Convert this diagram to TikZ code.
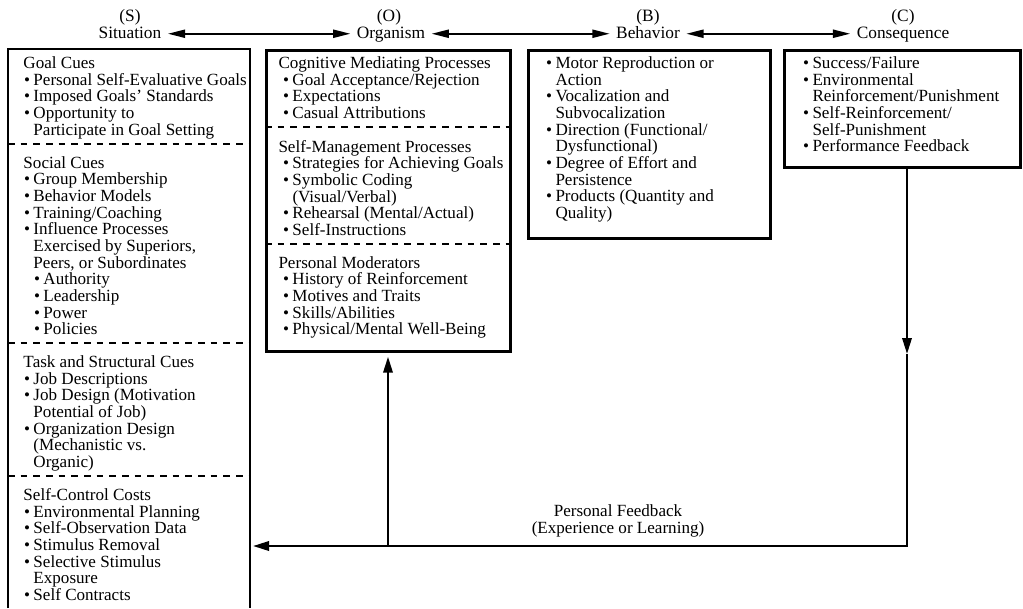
\documentclass[tikz,border=0pt]{standalone}
\usepackage{fontspec}
\setmainfont{Liberation Serif}
\usetikzlibrary{arrows.meta}

\tikzset{every picture/.style={line width=0.75pt}}
\tikzset{
  boxline/.style={line width=2pt},
  box/.style={draw, boxline, anchor=north west, inner sep=0pt},
  divider/.style={line width=1.5pt, dash pattern=on 5pt off 4.5pt},
  txt/.style={anchor=north west, inner sep=0pt, align=left, font=\fontsize{12.8}{12.5}\selectfont},
  hdr/.style={anchor=base, inner xsep=4.5pt, inner ysep=0pt, text height=9pt, text depth=2.6pt, font=\fontsize{13}{13}\selectfont},
  hdrarrow/.style={line width=1.6pt, arrows={Triangle[length=13pt,width=6pt]-Triangle[length=13pt,width=6pt]}},
  fb/.style={line width=1.75pt, -{Triangle[length=12pt,width=7pt]}},
}
\newcommand{\bul}[1][7.5pt]{\hspace*{#1}\llap{\textbullet\hspace{2.5pt}}\ignorespaces}
\newcommand{\cont}[1][7.5pt]{\hspace*{#1}\ignorespaces}

\begin{document}
\begin{tikzpicture}[x=0.75pt,y=0.75pt,yscale=-1,xscale=1]
\useasboundingbox (0,0) rectangle (1023,608);

% Header Nodes
\draw (130,21) node [hdr] (S) {(S)};
\draw (130,38) node [hdr] (sit) {Situation};
\draw (389,21) node [hdr] (O) {(O)};
\draw (391,38) node [hdr] (org) {Organism};
\draw (648,21) node [hdr] (B) {(B)};
\draw (648,38) node [hdr] (beh) {Behavior};
\draw (903,21) node [hdr] (C) {(C)};
\draw (903,38) node [hdr] (con) {Consequence};

%Straight Lines
\draw [hdrarrow] (sit) -- (org);
\draw [hdrarrow] (org) -- (beh);
\draw [hdrarrow] (beh) -- (con);

%Shape: Rectangle (situation, open at the bottom)
\draw [boxline] (8,608) -- (8,49) -- (250,49) -- (250,608);
\draw [divider] (8,143.9) -- (250,143.9);
\draw [divider] (8,343.1) -- (250,343.1);
\draw [divider] (8,475.9) -- (250,475.9);

%Shape: Rectangle
\draw (265,49) node [box, minimum width=183pt, minimum height=225.75pt] (midbox) {};
\draw [divider] (midbox.west |- 0,127.3) -- (midbox.east |- 0,127.3);
\draw [divider] (midbox.west |- 0,243.5) -- (midbox.east |- 0,243.5);
%Shape: Rectangle
\draw (527,49) node [box, minimum width=181.5pt, minimum height=141pt] (behbox) {};
%Shape: Rectangle
\draw (783,49) node [box, minimum width=177pt, minimum height=87.75pt] (conbox) {};

% Text Node
\draw (23,56.3) node [txt] (goalcues) {Goal Cues\\
\bul Personal Self-Evaluative Goals\\
\bul Imposed Goals' Standards\\
\bul Opportunity to\\
\cont Participate in Goal Setting};
% Text Node
\draw (23,155.9) node [txt] (socialcues) {Social Cues\\
\bul Group Membership\\
\bul Behavior Models\\
\bul Training/Coaching\\
\bul Influence Processes\\
\cont Exercised by Superiors,\\
\cont Peers, or Subordinates\\
\bul[15pt] Authority\\
\bul[15pt] Leadership\\
\bul[15pt] Power\\
\bul[15pt] Policies};
% Text Node
\draw (23,355.1) node [txt] (taskcues) {Task and Structural Cues\\
\bul Job Descriptions\\
\bul Job Design (Motivation\\
\cont Potential of Job)\\
\bul Organization Design\\
\cont (Mechanistic vs.\\
\cont Organic)};
% Text Node
\draw (23,487.9) node [txt] (costs) {Self-Control Costs\\
\bul Environmental Planning\\
\bul Self-Observation Data\\
\bul Stimulus Removal\\
\bul Selective Stimulus\\
\cont Exposure\\
\bul Self Contracts};

% Text Node
\draw (278,56.3) node [txt] (cognitive) {Cognitive Mediating Processes\\
\bul[10.5pt] Goal Acceptance/Rejection\\
\bul[10.5pt] Expectations\\
\bul[10.5pt] Casual Attributions};
% Text Node
\draw (278,139.6) node [txt] (selfmgmt) {Self-Management Processes\\
\bul[10.5pt] Strategies for Achieving Goals\\
\bul[10.5pt] Symbolic Coding\\
\cont[10.5pt] (Visual/Verbal)\\
\bul[10.5pt] Rehearsal (Mental/Actual)\\
\bul[10.5pt] Self-Instructions};
% Text Node
\draw (278,255.7) node [txt] (moderators) {Personal Moderators\\
\bul[10.5pt] History of Reinforcement\\
\bul[10.5pt] Motives and Traits\\
\bul[10.5pt] Skills/Abilities\\
\bul[10.5pt] Physical/Mental Well-Being};

% Text Node
\draw (555,56.3) node [txt] (behlist) {\bul[0pt] Motor Reproduction or\\
Action\\
\bul[0pt] Vocalization and\\
Subvocalization\\
\bul[0pt] Direction (Functional/\\
Dysfunctional)\\
\bul[0pt] Degree of Effort and\\
Persistence\\
\bul[0pt] Products (Quantity and\\
Quality)};

% Text Node
\draw (812,56.3) node [txt] (conlist) {\bul[0pt] Success/Failure\\
\bul[0pt] Environmental\\
Reinforcement/Punishment\\
\bul[0pt] Self-Reinforcement/\\
Self-Punishment\\
\bul[0pt] Performance Feedback};

% Feedback loop
\coordinate (fbmid) at (907,354);
\coordinate (fbcorner) at (907,546);
\coordinate (fbbranch) at (388,546);
\coordinate (fbend) at (253,546);
%Straight Lines
\draw [fb] (conbox.south -| fbcorner) -- (fbmid);
\draw [fb] (fbmid) -- (fbcorner) -- (fbend);
\draw [fb, shorten >=3pt] (fbbranch) -- (fbbranch |- midbox.south);

% Text Node
\draw (618,504.5) node [anchor=north, inner sep=0pt, align=center, font=\fontsize{12.8}{12.5}\selectfont] (fbnote) {Personal Feedback\\(Experience or Learning)};

\end{tikzpicture}
\end{document}
